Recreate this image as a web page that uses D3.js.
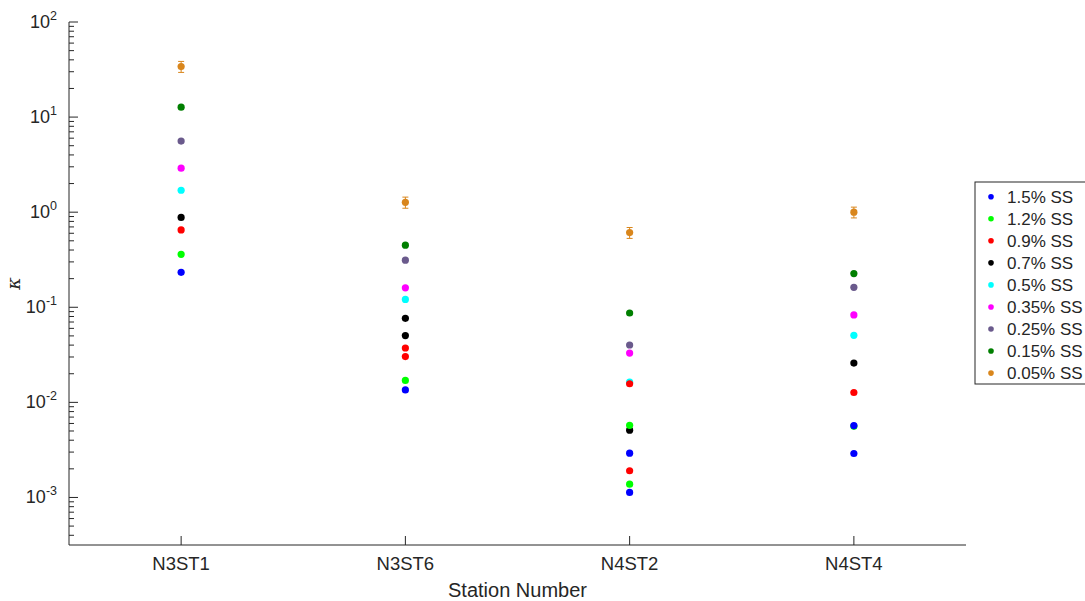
<!DOCTYPE html>
<html>
<head>
<meta charset="utf-8">
<script src="https://cdn.jsdelivr.net/npm/d3@7/dist/d3.min.js"></script>
<style>
  body { margin: 0; background: #fff; }
  svg { font-family: "Liberation Sans", Arial, Helvetica, sans-serif; }
  text { fill: #262626; }
</style>
</head>
<body>
<div id="chart"></div>
<script>
const STATIONS = ['N3ST1', 'N3ST6', 'N4ST2', 'N4ST4']
const SERIES = ['1.5% SS', '1.2% SS', '0.9% SS', '0.7% SS', '0.5% SS', '0.35% SS', '0.25% SS', '0.15% SS', '0.05% SS']
const COLORS = ['#0000ff', '#00ff00', '#ff0000', '#000000', '#00ffff', '#ff00ff', '#6a5a8c', '#007f00', '#d9861c']

// one value per station for each series, in legend order
const VALUES = [
  [0.233, 0.0135, 0.00113, 0.0029],
  [0.36, 0.017, 0.00138, 0.0056],
  [0.65, 0.0303, 0.00191, 0.0127],
  [0.88, 0.0504, 0.0051, 0.0259],
  [1.7, 0.121, 0.0163, 0.0507],
  [2.9, 0.16, 0.033, 0.083],
  [5.6, 0.313, 0.0401, 0.162],
  [12.7, 0.45, 0.087, 0.226],
  [34, 1.27, 0.61, 1.0]
]
// error on the 0.05% SS points
const ERRORS = [4.5, 0.17, 0.08, 0.13]

// extra points drawn on top: [series index, station, value]
const EXTRA = [
  [0, 'N4ST2', 0.00292],
  [0, 'N4ST4', 0.0057],
  [1, 'N4ST2', 0.00573],
  [2, 'N3ST6', 0.0373],
  [2, 'N4ST2', 0.0157],
  [3, 'N3ST6', 0.0766]
]

const Y_TICKS = [-3, -2, -1, 0, 1, 2]

const W = 1085, H = 601
const M = { left: 69, right: 119, top: 22, bottom: 56 }

let svg = d3.select('#chart').append('svg')
  .attr('width', W)
  .attr('height', H)

let x = d3.scalePoint()
  .domain(STATIONS)
  .range([M.left, W - M.right])
  .padding(0.5)

let y = d3.scaleLog()
  .domain([Math.pow(10, -3.5), 100])
  .range([H - M.bottom, M.top])

// axes
let minor = []
for (let e = -4; e < 2; e++) {
  for (let k = 2; k <= 9; k++) {
    let v = k * Math.pow(10, e)
    if (v >= y.domain()[0] && v <= 100) minor.push(v)
  }
}

let yAxis = svg.append('g')
  .attr('transform', 'translate(' + M.left + ',0)')

yAxis.selectAll('.minor')
    .data(minor)
  .enter().append('line')
    .attr('x1', 0).attr('x2', 5)
    .attr('y1', (d) => y(d)).attr('y2', (d) => y(d))
    .attr('stroke', '#262626')

yAxis.selectAll('.major')
    .data(Y_TICKS)
  .enter().append('line')
    .attr('x1', 0).attr('x2', 9)
    .attr('y1', (d) => y(Math.pow(10, d))).attr('y2', (d) => y(Math.pow(10, d)))
    .attr('stroke', '#262626')

let yLabel = yAxis.selectAll('.ylab')
    .data(Y_TICKS)
  .enter().append('text')
    .attr('x', -12)
    .attr('y', (d) => y(Math.pow(10, d)) + 6)
    .attr('text-anchor', 'end')
    .style('font-size', '18px')

yLabel.append('tspan').text('10')
yLabel.append('tspan')
  .attr('dy', -8)
  .style('font-size', '12.5px')
  .text((d) => d)

yAxis.append('line')
  .attr('x1', 0).attr('x2', 0)
  .attr('y1', M.top).attr('y2', H - M.bottom)
  .attr('stroke', '#262626')

let xAxis = svg.append('g')
  .attr('transform', 'translate(0,' + (H - M.bottom) + ')')

xAxis.append('line')
  .attr('x1', M.left).attr('x2', W - M.right)
  .attr('stroke', '#262626')

xAxis.selectAll('.tick')
    .data(STATIONS)
  .enter().append('line')
    .attr('x1', (d) => x(d)).attr('x2', (d) => x(d))
    .attr('y1', 0).attr('y2', -9)
    .attr('stroke', '#262626')

xAxis.selectAll('.xlab')
    .data(STATIONS)
  .enter().append('text')
    .attr('x', (d) => x(d))
    .attr('y', 25)
    .attr('text-anchor', 'middle')
    .style('font-size', '18.5px')
    .text((d) => d)

svg.append('text')
  .attr('x', (M.left + W - M.right) / 2)
  .attr('y', H - 4)
  .attr('text-anchor', 'middle')
  .style('font-size', '20px')
  .text('Station Number')

svg.append('text')
  .attr('transform', 'translate(20,' + ((M.top + H - M.bottom) / 2) + ') rotate(-90)')
  .attr('text-anchor', 'middle')
  .style('font-size', '19px')
  .style('font-family', '"DejaVu Serif", serif')
  .style('font-style', 'italic')
  .text('κ')

// data
let points = []
VALUES.forEach((vals, i) => vals.forEach((v, j) => points.push({ s: i, st: STATIONS[j], v: v })))
EXTRA.forEach((d) => points.push({ s: d[0], st: d[1], v: d[2] }))

let errG = svg.append('g')
  .attr('stroke', COLORS[8])
  .attr('stroke-width', 1)

STATIONS.forEach((st, j) => {
  let v = VALUES[8][j], e = ERRORS[j]
  let cx = x(st)
  errG.append('line')
    .attr('x1', cx).attr('x2', cx)
    .attr('y1', y(v - e)).attr('y2', y(v + e))
  errG.append('line')
    .attr('x1', cx - 3).attr('x2', cx + 3)
    .attr('y1', y(v - e)).attr('y2', y(v - e))
  errG.append('line')
    .attr('x1', cx - 3).attr('x2', cx + 3)
    .attr('y1', y(v + e)).attr('y2', y(v + e))
})

svg.append('g').selectAll('circle')
    .data(points)
  .enter().append('circle')
    .attr('cx', (d) => x(d.st))
    .attr('cy', (d) => y(d.v))
    .attr('r', 3.6)
    .attr('fill', (d) => COLORS[d.s])

// legend
let legend = svg.append('g')
  .attr('transform', 'translate(975,182)')

legend.append('rect')
  .attr('width', 130)
  .attr('height', 202)
  .attr('fill', '#fff')
  .attr('stroke', '#262626')

let item = legend.selectAll('.item')
    .data(SERIES)
  .enter().append('g')
    .attr('transform', (d, i) => 'translate(0,' + (14.7 + i * 22.05) + ')')

item.append('circle')
  .attr('cx', 16)
  .attr('r', 2.8)
  .attr('fill', (d, i) => COLORS[i])

item.append('text')
  .attr('x', 32)
  .attr('y', 6)
  .style('font-size', '17px')
  .text((d) => d)
</script>
</body>
</html>
